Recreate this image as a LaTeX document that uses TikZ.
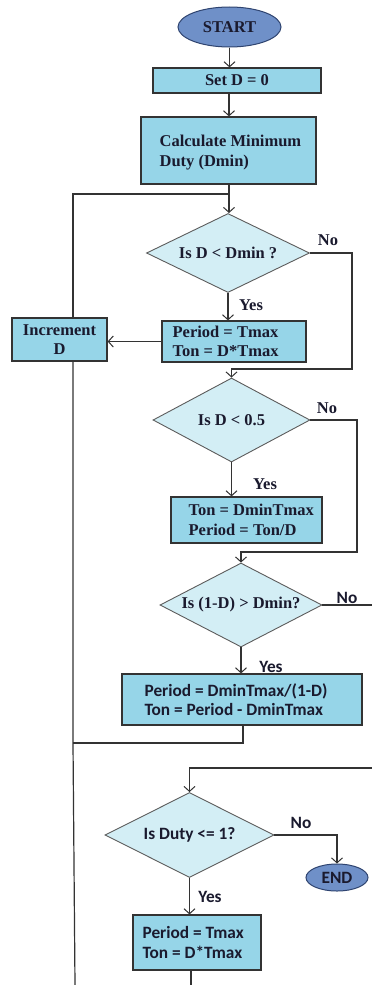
\documentclass[tikz,border=0pt]{standalone}
\usepackage{fontspec}
\setmainfont{Liberation Serif}
\newfontfamily\calfont{Carlito}
\usetikzlibrary{shapes.geometric,arrows.meta,calc}
\definecolor{boxfill}{HTML}{96D5E8}
\definecolor{diafill}{HTML}{D3EEF5}
\definecolor{termfill}{HTML}{6F90C8}
\definecolor{termline}{HTML}{2F4470}
\definecolor{linecol}{HTML}{333333}
\definecolor{inkcol}{HTML}{1A1A2E}
\tikzset{
  serif/.style={font=\fontsize{16.5}{19.5}\selectfont\bfseries},
  sans/.style={font=\calfont\fontsize{17.3}{19.5}\selectfont\bfseries},
  procbox/.style={draw=linecol, line width=1.2pt, fill=boxfill, rectangle,
    inner sep=0pt, align=center, text=inkcol},
  boxtext/.style={anchor=west, inner sep=0pt, align=left, text=inkcol},
  decision/.style={draw=linecol!80, line width=0.9pt, fill=diafill, diamond,
    inner sep=0pt},
  terminal/.style={draw=termline, line width=1pt, fill=termfill, ellipse,
    inner sep=0pt, text=inkcol},
  lbl/.style={text=inkcol, inner sep=0pt},
  conn/.style={draw=linecol, line width=1.2pt},
  arr/.style={conn, -{Straight Barb[length=5pt,width=11pt,line width=1pt]}},
}
\begin{document}
\begin{tikzpicture}[x=1pt,y=-1pt]
\useasboundingbox (0,0) rectangle (372,985);
\fill[white] (0,0) rectangle (372,985);

% ---- nodes ----
\node[terminal, serif, minimum width=103pt, minimum height=40pt] (start) at (229.5,27) {START};
\node[procbox, serif, minimum width=168pt, minimum height=25pt] (setd) at (237,80.5) {Set D = 0};

\node[procbox, minimum width=175pt, minimum height=67pt] (calc) at (228.5,150.5) {};
\node[boxtext, serif] (calct) at ($(calc.west)+(19,2)$) {Calculate Minimum\\Duty (Dmin)};

\node[decision, minimum width=163pt, minimum height=79pt] (d1) at (228,253) {};
\node[lbl, serif] (d1t) at (d1) {Is D {\char`\<} Dmin ?};
\node[procbox, minimum width=144pt, minimum height=41pt] (p1) at (234,341.5) {};
\node[boxtext, serif] (p1t) at ($(p1.west)+(11,0)$) {Period = Tmax\\Ton = D*Tmax};
\node[procbox, serif, minimum width=95pt, minimum height=43pt] (inc) at (59.5,339.5) {Increment\\D};

\node[decision, minimum width=157pt, minimum height=84pt] (d2) at (231.5,420) {};
\node[lbl, serif] (d2t) at (d2) {Is D {\char`\<} 0.5};
\node[procbox, minimum width=151pt, minimum height=46pt] (p2) at (246.5,520) {};
\node[boxtext, serif] (p2t) at ($(p2.west)+(18,0)$) {Ton = DminTmax\\Period = Ton/D};

\node[decision, minimum width=162pt, minimum height=84pt] (d3) at (241,605) {};
\node[lbl, serif] (d3t) at (d3) {Is (1-D) {\char`\>} Dmin?};
\node[procbox, minimum width=240pt, minimum height=51pt] (p3) at (242,699.5) {};
\node[boxtext, sans] (p3t) at ($(p3.west)+(23,0)$) {Period = DminTmax/(1-D)\\Ton = Period - DminTmax};

\node[decision, minimum width=169pt, minimum height=85pt] (d4) at (189.5,835) {};
\node[lbl, sans] (d4t) at (d4) {Is Duty {\char`\<}= 1?};
\node[terminal, sans, minimum width=62pt, minimum height=27pt] (endn) at (337,877.5) {END};
\node[procbox, minimum width=128pt, minimum height=55pt] (p4) at (197,942.5) {};
\node[boxtext, sans] (p4t) at ($(p4.west)+(10,0)$) {Period = Tmax\\Ton = D*Tmax};

% ---- branch labels ----
\node[lbl, serif] (no1) at (328,240) {No};
\node[lbl, serif] (yes1) at (251,305) {Yes};
\node[lbl, serif] (no2) at (327,408) {No};
\node[lbl, serif] (yes2) at (265,484) {Yes};
\node[lbl, sans] (no3) at (347,598) {No};
\node[lbl, sans] (yes3) at (271,667) {Yes};
\node[lbl, sans] (no4) at (301,823) {No};
\node[lbl, sans] (yes4) at (210,897) {Yes};

% ---- routing points ----
\coordinate (j1) at (229,194);
\coordinate (lt) at (73,194);
\coordinate (lb) at (75,985);
\coordinate (r1) at (352,369);
\coordinate (r2) at (357,552);
\coordinate (re3) at (372,605);
\coordinate (j3) at (243,743);
\coordinate (rt4) at (372,768);
\coordinate (bot) at (191,985);

% ---- connectors ----
\draw[arr] (start.south) -- (start.south |- setd.north);
\draw[arr] (setd.south -| j1) -- (calc.north -| j1);
\draw[arr] (calc.south -| j1) -- (j1) -- (j1 |- d1.north);
\draw[conn] (inc.north -| lt) -- (lt) -- (j1);

\draw[arr] (d1.south) -- (d1.south |- p1.north);
\draw[arr] (p1.west) -- (p1.west -| inc.east);
\draw[arr] (d1.east) -| (r1) -- (r1 -| d2.north) -- (d2.north);
\draw[conn] (inc.south -| lt) -- (lt |- j3) -- (lb);

\draw[arr] (d2.south) -- (d2.south |- p2.north);
\draw[arr] (d2.east) -| (r2) -- (r2 -| d3.north) -- (d3.north);

\draw[arr] (d3.south) -- (d3.south |- p3.north);
\draw[conn] (d3.east) -- (re3);
\draw[conn] (p3.south -| j3) -- (j3) -- (j3 -| lt);

\draw[arr] (rt4) -- (rt4 -| d4.north) -- (d4.north);
\draw[arr] (d4.east) -| (endn.north);
\draw[arr] (d4.south) -- (d4.south |- p4.north);
\draw[conn] (p4.south -| bot) -- (bot);
\end{tikzpicture}
\end{document}
